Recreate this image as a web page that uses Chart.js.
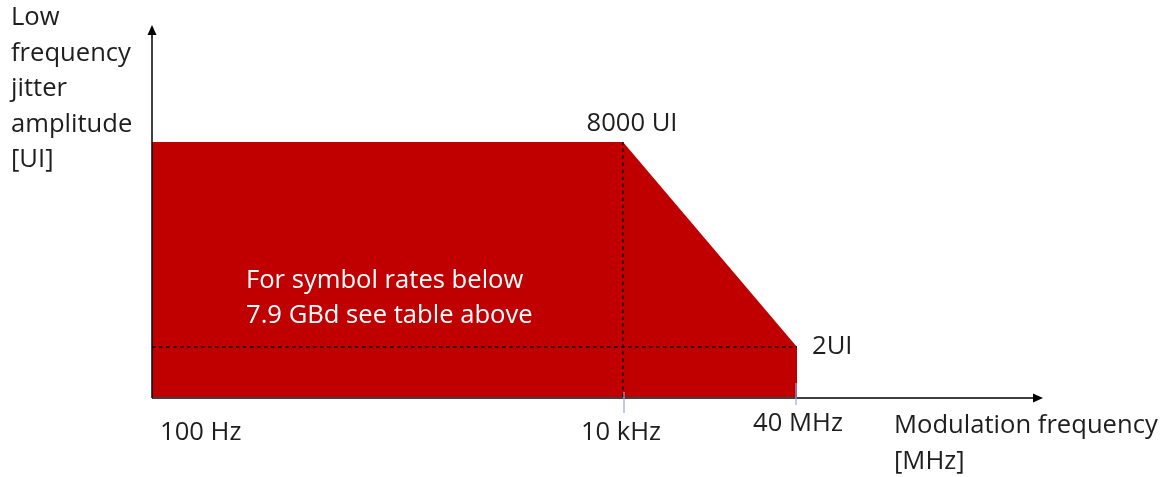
<!DOCTYPE html>
<html><head><meta charset="utf-8">
<script src="https://cdn.jsdelivr.net/npm/chart.js@4"></script>
<style>html,body{margin:0;padding:0;background:#fff}#wrap{width:1173px;height:477px}</style>
</head><body><div id="wrap"><canvas id="c"></canvas></div>
<script>
// Schematic data (axis units of the sketch)
const freqLabels = ['100 Hz', '10 kHz', '40 MHz'];
const freqPos = [0, 4.71, 6.45];
const ampLabels = ['8000 UI', '2UI'];
const ampPos = [5.1, 1];
const yTitle = ['Low', 'frequency', 'jitter', 'amplitude', '[UI]'];
const xTitle = ['Modulation frequency', '[MHz]'];
const note = ['For symbol rates below', '7.9 GBd see table above'];

const mask = [
  {x: freqPos[0], y: ampPos[0]},
  {x: freqPos[1], y: ampPos[0]},
  {x: freqPos[2], y: ampPos[1]},
  {x: freqPos[2], y: 0}
];
const vDash = [{x: freqPos[1], y: 0}, {x: freqPos[1], y: ampPos[0]}];
const hDash = [{x: freqPos[0], y: ampPos[1]}, {x: freqPos[2], y: ampPos[1]}];

const FONT = '"Open Sans", sans-serif';

const overlay = {
  id: 'overlay',
  afterDraw(chart) {
    const ctx = chart.ctx, xs = chart.scales.x, ys = chart.scales.y;
    const x0 = xs.getPixelForValue(0), y0 = ys.getPixelForValue(0);
    const xEnd = xs.getPixelForValue(xs.max), yEnd = ys.getPixelForValue(ys.max);
    ctx.save();
    // axes
    ctx.strokeStyle = '#000'; ctx.fillStyle = '#000'; ctx.lineWidth = 1.5;
    ctx.beginPath(); ctx.moveTo(x0, y0 + 1); ctx.lineTo(x0, yEnd + 8); ctx.stroke();
    ctx.beginPath(); ctx.moveTo(x0 - 4.5, yEnd + 10); ctx.lineTo(x0, yEnd); ctx.lineTo(x0 + 4.5, yEnd + 10); ctx.closePath(); ctx.fill();
    ctx.beginPath(); ctx.moveTo(x0, y0 + 1); ctx.lineTo(xEnd - 8, y0 + 1); ctx.stroke();
    ctx.beginPath(); ctx.moveTo(xEnd - 10, y0 + 1 - 4.5); ctx.lineTo(xEnd, y0 + 1); ctx.lineTo(xEnd - 10, y0 + 1 + 4.5); ctx.closePath(); ctx.fill();
    // small blue ticks
    ctx.strokeStyle = '#8faadc'; ctx.lineWidth = 1.2;
    ctx.beginPath(); ctx.moveTo(xs.getPixelForValue(freqPos[1]) + 1, y0 - 5); ctx.lineTo(xs.getPixelForValue(freqPos[1]) + 1, y0 + 16); ctx.stroke();
    ctx.beginPath(); ctx.moveTo(xs.getPixelForValue(freqPos[2]) - 1, y0 - 14); ctx.lineTo(xs.getPixelForValue(freqPos[2]) - 1, y0 + 8); ctx.stroke();
    // text
    ctx.font = '25.6px ' + FONT; ctx.fillStyle = '#1e1e1e'; ctx.textBaseline = 'middle';
    ctx.textAlign = 'left';
    yTitle.forEach((t, i) => ctx.fillText(t, 11, 18 + i * 35.5));
    xTitle.forEach((t, i) => ctx.fillText(t, 894, 426 + i * 36));
    // tick labels
    ctx.fillText(freqLabels[0], xs.getPixelForValue(freqPos[0]) + 8, 433);
    ctx.textAlign = 'center';
    ctx.fillText(freqLabels[1], xs.getPixelForValue(freqPos[1]) - 2, 433);
    ctx.fillText(freqLabels[2], xs.getPixelForValue(freqPos[2]) + 1, 424);
    ctx.fillText(ampLabels[0], xs.getPixelForValue(freqPos[1]) + 9, 124);
    ctx.textAlign = 'left';
    ctx.fillText(ampLabels[1], xs.getPixelForValue(freqPos[2]) + 15, ys.getPixelForValue(ampPos[1]));
    // note
    ctx.fillStyle = '#ffffff';
    note.forEach((t, i) => ctx.fillText(t, 246, 281 + i * 35));
    ctx.restore();
  }
};

new Chart(document.getElementById('c'), {
  type: 'scatter',
  data: {
    datasets: [
      {data: mask, showLine: true, fill: 'origin', backgroundColor: '#c00000', borderColor: '#c00000', borderWidth: 0, pointRadius: 0, tension: 0, order: 3},
      {data: vDash, showLine: true, fill: false, borderColor: '#000', borderWidth: 1.3, borderDash: [3.5, 3.5], pointRadius: 0, order: 1},
      {data: hDash, showLine: true, fill: false, borderColor: '#000', borderWidth: 1.3, borderDash: [3.5, 3.5], pointRadius: 0, order: 2}
    ]
  },
  options: {
    responsive: true, maintainAspectRatio: false, animation: false,
    layout: {padding: {left: 152, right: 130, top: 25, bottom: 80}},
    plugins: {legend: {display: false}, tooltip: {enabled: false}},
    scales: {
      x: {type: 'linear', min: 0, max: 8.91, display: false},
      y: {type: 'linear', min: 0, max: 7.44, display: false}
    }
  },
  plugins: [overlay]
});
</script></body></html>
